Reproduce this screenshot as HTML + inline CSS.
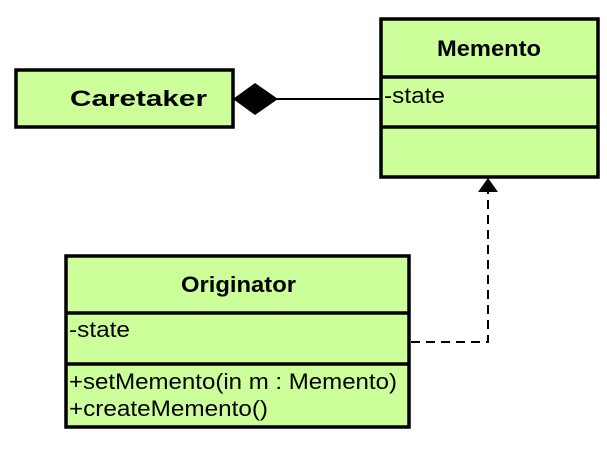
<!DOCTYPE html>
<html><head><meta charset="utf-8"><style>
body{margin:0;background:#fff;}
</style></head><body>
<svg width="607" height="451" xmlns="http://www.w3.org/2000/svg" font-family="Liberation Sans, Arial, sans-serif">
<rect x="0" y="0" width="607" height="451" fill="#fff"/>
<!-- Memento -->
<rect x="381" y="19" width="217" height="158" fill="#ccff99" stroke="#000" stroke-width="3.5"/>
<line x1="381" y1="77" x2="598" y2="77" stroke="#000" stroke-width="3.5"/>
<line x1="381" y1="127" x2="598" y2="127" stroke="#000" stroke-width="3.5"/>
<text x="437" y="56" font-size="22" font-weight="bold" textLength="104" lengthAdjust="spacingAndGlyphs">Memento</text>
<text x="384" y="103" font-size="22" textLength="61" lengthAdjust="spacingAndGlyphs">-state</text>
<!-- Caretaker -->
<rect x="16" y="70" width="217" height="57" fill="#ccff99" stroke="#000" stroke-width="3.5"/>
<text x="70" y="106" font-size="22" font-weight="bold" textLength="137" lengthAdjust="spacingAndGlyphs">Caretaker</text>
<!-- composition -->
<line x1="276" y1="99" x2="381" y2="99" stroke="#000" stroke-width="2"/>
<polygon points="233,99 255,83 278,99 255,115" fill="#000"/>
<!-- Originator -->
<rect x="66" y="256" width="343" height="171" fill="#ccff99" stroke="#000" stroke-width="3.5"/>
<line x1="66" y1="313" x2="409" y2="313" stroke="#000" stroke-width="3.5"/>
<line x1="66" y1="364" x2="409" y2="364" stroke="#000" stroke-width="3.5"/>
<text x="181" y="292" font-size="22" font-weight="bold" textLength="115" lengthAdjust="spacingAndGlyphs">Originator</text>
<text x="69" y="337" font-size="22" textLength="61" lengthAdjust="spacingAndGlyphs">-state</text>
<text x="69" y="389" font-size="22" textLength="328" lengthAdjust="spacingAndGlyphs">+setMemento(in m : Memento)</text>
<text x="69" y="416" font-size="22" textLength="199" lengthAdjust="spacingAndGlyphs">+createMemento()</text>
<!-- dependency -->
<polyline points="411,342 488,342 488,190" fill="none" stroke="#000" stroke-width="2" stroke-dasharray="9,6"/>
<polygon points="488,178 478,192 498,192" fill="#000"/>
</svg>
</body></html>
